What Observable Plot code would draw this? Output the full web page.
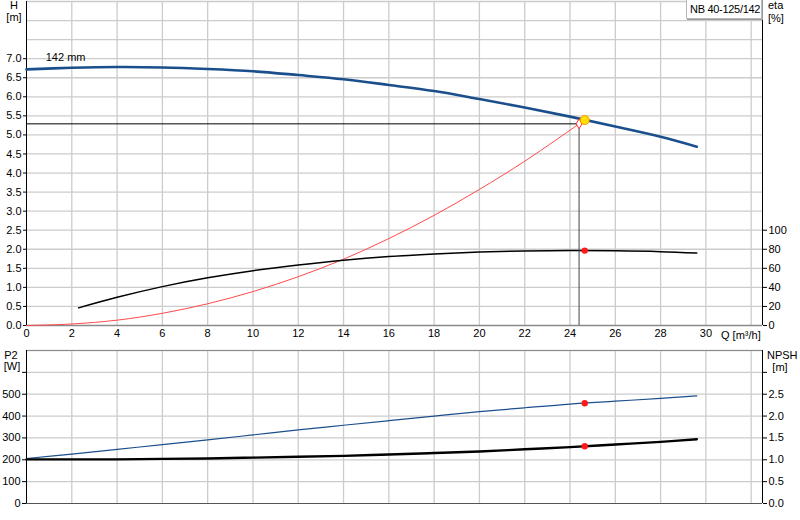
<!DOCTYPE html>
<html><head><meta charset="utf-8">
<script src="https://cdn.jsdelivr.net/npm/d3@7"></script>
<script src="https://cdn.jsdelivr.net/npm/@observablehq/plot@0.6"></script>
<style>
body{margin:0;background:#fff;font-family:"Liberation Sans",Arial,sans-serif;}
#wrap{position:relative;width:800px;height:520px;overflow:hidden;background:#fff}
.lbl{position:absolute;font-size:11px;line-height:12px;color:#000;white-space:nowrap}
svg{display:block}
#legend{position:absolute;left:686px;top:-1px;height:18px;border:1px solid #b8b8b8;box-shadow:1px 1px 0 #9a9a9a;background:#fff;font-size:11px;line-height:18px;padding:0 1px 0 3px;white-space:nowrap;letter-spacing:-0.3px}
</style></head><body><div id="wrap"></div>
<script>
// ---- data ----
const xTicks = [0,2,4,6,8,10,12,14,16,18,20,22,24,26,28,30];
const gridQ = [2,4,6,8,10,12,14,16,18,20,22,24,26,28,30,32];
const hTicks = [0,0.5,1,1.5,2,2.5,3,3.5,4,4.5,5,5.5,6,6.5,7];
const gridH = [0.5,1,1.5,2,2.5,3,3.5,4,4.5,5,5.5,6,6.5,7,7.5,8,8.5];
const etaTicks = [0,20,40,60,80,100];
const p2Ticks = [0,100,200,300,400,500,600];
const gridP2 = [100,200,300,400,500,600,700];
const npshTicks = [0,0.5,1,1.5,2,2.5,3];

const qH = [0,2,4,6,8,10,12,14,16,18,20,22,24,26,28,29.6];
const headH = [6.72,6.76,6.78,6.77,6.73,6.67,6.57,6.46,6.31,6.15,5.94,5.72,5.48,5.22,4.95,4.69];

const qEta = [2.3,4,6,8,10,12,14,16,18,20,22,24,26,28,29.6];
const eta = [18.5,29.6,40.8,50,57.5,63.5,68.5,72.3,75,77.1,78.3,78.6,78.4,77.5,76];

const qSys = [0,2,4,6,8,10,12,14,16,18,20,22,24.4];
const hSys = [0,0.04,0.14,0.32,0.57,0.89,1.28,1.74,2.28,2.89,3.57,4.31,5.29];

const qP = [0,2,4,6,8,10,12,14,16,18,20,22,24,26,28,29.6];
const p2 = [206,226,248,269,291,314,337,358,379,400,420,438,455,468,481,492];
const npsh = [1.01,1.01,1.01,1.02,1.03,1.05,1.07,1.09,1.12,1.155,1.19,1.24,1.29,1.35,1.41,1.47];

const opQ = 24.65, opH = 5.39, opEta = 78.6, opP2 = 459, opNpsh = 1.31;
const dutyQ = 24.4, dutyH = 5.29;
const curveLabel = [{Q:0.85, H:7.02, text:"142 mm"}];

// ---- tables ----
const headData = qH.map((q,i)=>({Q:q,H:headH[i]}));
const etaData = qEta.map((q,i)=>({Q:q,eta:eta[i]}));
const sysData = qSys.map((q,i)=>({Q:q,H:hSys[i]}));
const pData = qP.map((q,i)=>({Q:q,P2:p2[i],NPSH:npsh[i]}));

const font = {fontFamily:'"Liberation Sans",Arial,sans-serif',fontSize:"11px",color:"#000",background:"transparent",overflow:"visible"};
const gridStyle = {stroke:"#cccccc",strokeWidth:1.3};
const cv = "catmull-rom";

const topChart = Plot.plot({
  width:800,height:345,marginTop:1,marginLeft:26,marginRight:38,marginBottom:20,
  style:font,
  x:{domain:[0,32.5]}, y:{domain:[0,8.5]},
  marks:[
    Plot.ruleX(gridQ,gridStyle),
    Plot.ruleY(gridH,gridStyle),
    Plot.axisX({ticks:xTicks,tickSize:0,tickPadding:4,label:null,tickFormat:d=>String(d)}),
    Plot.axisY({ticks:hTicks,tickFormat:d=>d.toFixed(1),tickSize:3,tickPadding:2,label:null}),
    Plot.axisY({anchor:"right",ticks:etaTicks.map(e=>e/40),tickFormat:d=>String(Math.round(d*40)),tickSize:4,tickPadding:2,label:null}),
    Plot.ruleY([0],{stroke:"#8a8a8a",strokeWidth:1.5}),
    Plot.ruleX([0],{stroke:"#000"}),
    Plot.ruleX([32.5],{stroke:"#000"}),
    Plot.line(sysData,{x:"Q",y:"H",stroke:"#ff4a4a",strokeWidth:1,curve:cv}),
    Plot.line(etaData,{x:"Q",y:d=>d.eta/40,stroke:"#000",strokeWidth:1.5,curve:cv}),
    Plot.ruleY([{Q:dutyQ,H:dutyH}],{y:"H",x1:0,x2:"Q",stroke:"#000",strokeWidth:1}),
    Plot.ruleX([{Q:dutyQ,H:dutyH}],{x:"Q",y1:0,y2:"H",stroke:"#444",strokeWidth:1}),
    Plot.line(headData,{x:"Q",y:"H",stroke:"#1b4f8c",strokeWidth:2.6,curve:cv}),
    Plot.dot([{Q:dutyQ,H:dutyH}],{x:"Q",y:"H",r:3,symbol:"diamond",stroke:"#ff3030",fill:"#fff",strokeWidth:1}),
    Plot.dot([{Q:opQ,H:opH}],{x:"Q",y:"H",r:4.5,fill:"#ffe000",stroke:"#ff9000",strokeWidth:1}),
    Plot.dot([{Q:opQ,eta:opEta}],{x:"Q",y:d=>d.eta/40,r:3.2,fill:"#ff1a1a",stroke:"none"}),
    Plot.text(curveLabel,{x:"Q",y:"H",text:"text",textAnchor:"start",fill:"#000",fontSize:11})
  ]
});

const bottomChart = Plot.plot({
  width:800,height:175,marginTop:5,marginLeft:26,marginRight:38,marginBottom:17,
  style:font,
  x:{domain:[0,32.5],axis:null}, y:{domain:[0,700]},
  marks:[
    Plot.ruleX(gridQ,gridStyle),
    Plot.ruleY(gridP2,gridStyle),
    Plot.axisY({ticks:p2Ticks,tickFormat:d=>d<=500?String(d):"",tickSize:4,tickPadding:2,label:null}),
    Plot.axisY({anchor:"right",ticks:npshTicks.map(n=>n*200),tickFormat:d=>d<=500?(d/200).toFixed(1):"",tickSize:4,tickPadding:2,label:null}),
    Plot.ruleY([0],{stroke:"#555",strokeWidth:1.2}),
    Plot.ruleY([700],{stroke:"#8a8a8a",strokeWidth:1.2}),
    Plot.ruleX([0],{stroke:"#000"}),
    Plot.ruleX([32.5],{stroke:"#000"}),
    Plot.line(pData,{x:"Q",y:"P2",stroke:"#1b4f8c",strokeWidth:1.2,curve:cv}),
    Plot.line(pData,{x:"Q",y:d=>d.NPSH*200,stroke:"#000",strokeWidth:2.4,curve:cv}),
    Plot.dot([{Q:opQ,P2:opP2}],{x:"Q",y:"P2",r:3.2,fill:"#ff1a1a"}),
    Plot.dot([{Q:opQ,NPSH:opNpsh}],{x:"Q",y:d=>d.NPSH*200,r:3.2,fill:"#ff1a1a"})
  ]
});

const wrap = document.getElementById("wrap");
wrap.appendChild(topChart);
wrap.appendChild(bottomChart);

function label(text,left,topPx,align){
  const d=document.createElement("div");
  d.className="lbl";d.textContent=text;
  d.style.left=left+"px";d.style.top=topPx+"px";
  if(align==="center"){d.style.transform="translateX(-50%)";}
  wrap.appendChild(d);
}
label("H",14,-1,"center");
label("[m]",14,11,"center");
label("eta",768,-1);
label("[%]",768,12);
label("Q [m³/h]",721,329);
label("P2",11,349,"center");
label("[W]",12,360,"center");
label("NPSH",767,349);
label("[m]",780,361,"center");
const lg=document.createElement("div");lg.id="legend";lg.textContent="NB 40-125/142";wrap.appendChild(lg);
</script></body></html>
